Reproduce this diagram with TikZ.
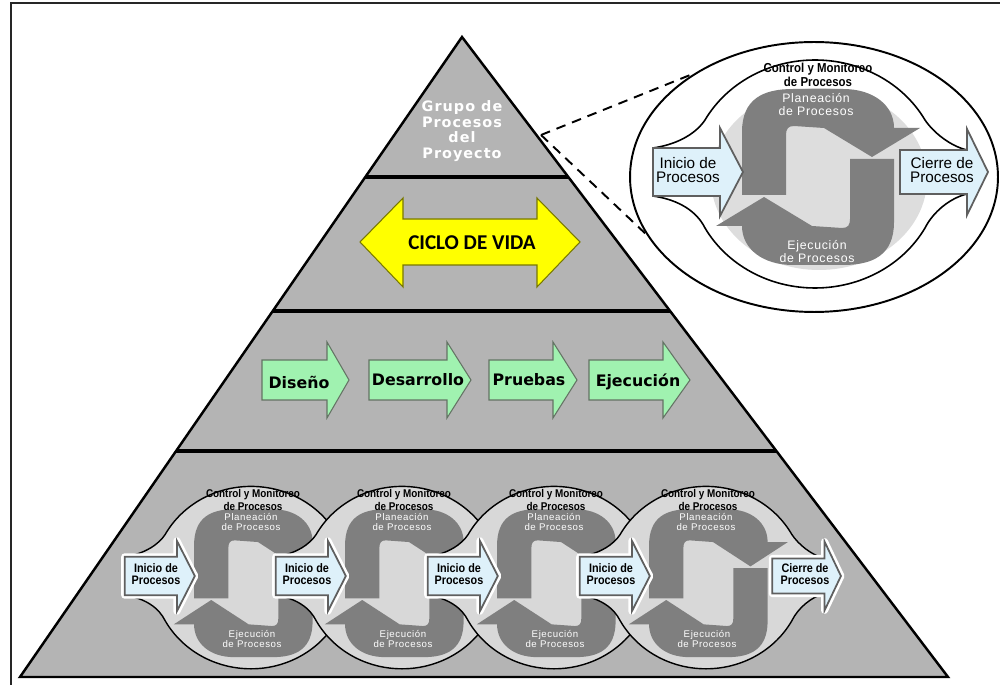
\documentclass[tikz,border=0pt]{standalone}
\usepackage{fontspec}
\usetikzlibrary{shapes.geometric,calc}

\newfontfamily\arialfont{Liberation Sans}
\newfontfamily\narrowfont{Liberation Sans}[FakeStretch=0.88]
\newfontfamily\spacedfont{Liberation Sans}[LetterSpace=6]
\newfontfamily\verdfont{DejaVu Sans}
\newfontfamily\wideverdfont{DejaVu Sans}[LetterSpace=7]
\newfontfamily\calfont{Carlito}

\definecolor{pyrgray}{RGB}{180,180,180}
\definecolor{hookgray}{RGB}{127,127,127}
\definecolor{discgray}{RGB}{221,221,221}
\definecolor{smalldisc}{RGB}{216,216,216}
\definecolor{boxblue}{RGB}{222,241,250}
\definecolor{boxedge}{RGB}{95,95,95}
\definecolor{leafgreen}{RGB}{160,242,176}
\definecolor{leafedge}{RGB}{100,115,100}
\definecolor{lifeyellow}{RGB}{255,255,0}
\definecolor{lifeedge}{RGB}{120,120,0}

% hooked arrow of the process cycle (upper half; the lower one is the same turned 180 degrees)
\newcommand\hookpath[1]{\fill[hookgray,#1] (-76,-18) -- (-76,45)
  .. controls (-76,78) and (-55,88) .. (-25,88) -- (25,88)
  .. controls (55,88) and (76,72) .. (76,49) -- (102,49) -- (54,20) -- (6,49)
  -- (-24,51) .. controls (-30,51) and (-32,48) .. (-32,42) -- (-32,-18) -- cycle;}

% outline of a cycle, pinched towards the start and end arrows
\newcommand\blobtwo[1]{\filldraw[#1] (-162,24) .. controls (-135,28) and (-118,40) .. (-110,52)
  .. controls (-88,89) and (-46,112) .. (0,112) .. controls (46,112) and (88,89) .. (110,52)
  .. controls (118,40) and (135,26) .. (152,22) -- (152,-22)
  .. controls (135,-26) and (118,-40) .. (110,-56)
  .. controls (88,-93) and (46,-116) .. (0,-116) .. controls (-46,-116) and (-88,-93) .. (-110,-56)
  .. controls (-118,-40) and (-135,-28) .. (-162,-24) -- cycle;}
% outline pinched only towards the start arrow
\newcommand\blobone[1]{\filldraw[#1] (-162,24) .. controls (-135,28) and (-118,40) .. (-110,52)
  .. controls (-88,89) and (-46,112) .. (0,112) .. controls (46,112) and (88,89) .. (110,52)
  .. controls (120,35.5) and (125,17) .. (125,-2) .. controls (125,-21) and (120,-39.5) .. (110,-56)
  .. controls (88,-93) and (46,-116) .. (0,-116) .. controls (-46,-116) and (-88,-93) .. (-110,-56)
  .. controls (-118,-40) and (-135,-28) .. (-162,-24) -- cycle;}

\newcommand\inicioarrow[1]{\filldraw[#1] (-162,24) -- (-95,24) -- (-95,44) -- (-72,0)
  -- (-95,-44) -- (-95,-24) -- (-162,-24) -- cycle;}
\newcommand\cierrearrow[1]{\filldraw[#1] (85,22) -- (152,22) -- (152,43) -- (173,0)
  -- (152,-43) -- (152,-22) -- (85,-22) -- cycle;}

\newcommand\greenarrow[3]{\filldraw[leafarrow] (#1,-360) -- (#2,-360) -- (#2,-342) -- (#3,-380)
  -- (#2,-418) -- (#2,-400) -- (#1,-400) -- cycle;}

% one small cycle of the bottom layer: #1 centre x, #2 tag, #3 outline macro
\newcommand\smallcycle[3]{%
\begin{scope}[shift={(#1,-576)}]
  \begin{scope}[xscale=0.78, yscale=0.8]
    #3{fill=smalldisc, draw=black, line width=0.8pt}
    \hookpath{shift={(3,-9)}, yscale=1.05}
    \hookpath{shift={(3,-9)}, yscale=1.05, rotate=180}
    \inicioarrow{procbox, halo}
  \end{scope}
  \node[smallctl] (ctl#2) at (2,76) {Control y Monitoreo\\de Procesos};
  \node[smallwhite] (plan#2) at (0,54) {Planeación\\de Procesos};
  \node[smallwhite] (exec#2) at (1,-63) {Ejecución\\de Procesos};
  \node[smallbox] (ini#2) at (-95,2) {Inicio de\\Procesos};
\end{scope}}

\begin{document}
\begin{tikzpicture}[x=0.02cm, y=0.02cm,
  procbox/.style={fill=boxblue, draw=boxedge, line width=1pt},
  halo/.style={preaction={draw=white, line width=4pt, line join=round}},
  leafarrow/.style={fill=leafgreen, draw=leafedge, line width=0.6pt},
  layerline/.style={line width=2.3pt, line cap=butt},
  cyclabel/.style={align=center, inner sep=0pt},
  bigctl/.style={cyclabel, font=\narrowfont\bfseries\fontsize{7.4}{6.8}\selectfont},
  bigwhite/.style={cyclabel, text=white, font=\spacedfont\fontsize{7}{7.4}\selectfont},
  bigbox/.style={cyclabel, font=\arialfont\fontsize{8.7}{8}\selectfont},
  smallctl/.style={cyclabel, font=\narrowfont\bfseries\fontsize{6.4}{5.7}\selectfont},
  smallwhite/.style={cyclabel, text=white, font=\spacedfont\fontsize{5.5}{5.7}\selectfont},
  smallbox/.style={cyclabel, font=\narrowfont\bfseries\fontsize{7}{6.8}\selectfont},
  leaftext/.style={inner sep=0pt, font=\verdfont\bfseries\fontsize{9}{10}\selectfont}]

\useasboundingbox (0,0) rectangle (1000,-685);

% frame
\draw[line width=1.4pt, draw=black!85, line join=miter] (1000,-3) -- (11,-3) -- (11,-685);

% pyramid and its layers
\coordinate (apex) at (462,-37);
\coordinate (bl) at (20,-677);
\coordinate (br) at (948,-677);
\filldraw[fill=pyrgray, draw=black, line width=1.4pt] (apex) -- (br) -- (bl) -- cycle;
\draw[layerline] ($(apex)!0.21875!(bl)$) -- ($(apex)!0.21875!(br)$);
\draw[layerline] ($(apex)!0.428125!(bl)$) -- ($(apex)!0.428125!(br)$);
\draw[layerline] ($(apex)!0.646875!(bl)$) -- ($(apex)!0.646875!(br)$);

\node[align=center, inner sep=0pt, text=white,
  font=\wideverdfont\bfseries\fontsize{8.2}{9}\selectfont] (grupo) at (462,-131)
  {Grupo de\\Procesos\\del\\Proyecto};

% life cycle double arrow
\filldraw[fill=lifeyellow, draw=lifeedge, line width=0.6pt]
  (360,-242) -- (403,-198) -- (403,-219) -- (537,-219) -- (537,-198) -- (580,-242)
  -- (537,-287) -- (537,-265) -- (403,-265) -- (403,-287) -- cycle;
\node[inner sep=0pt, font=\calfont\bfseries\fontsize{12}{14}\selectfont] (ciclo) at (472,-243) {CICLO DE VIDA};

% phases
\greenarrow{262}{327}{349}
\greenarrow{369}{447}{471}
\greenarrow{489}{553}{577}
\greenarrow{589}{663}{690}
\node[leaftext] (diseno) at (299,-382) {Diseño};
\node[leaftext] (desarrollo) at (418,-380) {Desarrollo};
\node[leaftext] (pruebas) at (529,-380) {Pruebas};
\node[leaftext] (ejecucion) at (638,-382) {Ejecución};

% chain of process cycles
\smallcycle{251}{a}{\blobone}
\smallcycle{402}{b}{\blobone}
\smallcycle{554}{c}{\blobone}
\smallcycle{706}{d}{\blobtwo}
\begin{scope}[shift={(706,-576)}]
  \begin{scope}[xscale=0.78, yscale=0.8]
    \cierrearrow{procbox, halo}
  \end{scope}
  \node[smallbox] (cierred) at (99,2) {Cierre de\\Procesos};
\end{scope}

% enlarged view of one cycle
\node[draw, ellipse, line width=1.1pt, minimum width=7.36cm, minimum height=5.4cm, inner sep=0pt]
  (zoomring) at (814,-177) {};
\coordinate (zoomfrom) at (541,-135);
\draw[line width=1.1pt, dash pattern=on 5.5pt off 4pt] (zoomfrom) -- (zoomring.139);
\draw[line width=1.1pt, dash pattern=on 5.5pt off 4pt] (zoomfrom) -- (zoomring.199);

\begin{scope}[shift={(815,-172)}]
  \blobtwo{fill=white, draw=black, line width=0.9pt}
  \fill[discgray] (4,-7) ellipse [x radius=2.16cm, y radius=1.82cm];
  \hookpath{shift={(3,-5)}}
  \hookpath{shift={(3,-5)}, rotate=180}
  \inicioarrow{procbox}
  \cierrearrow{procbox}
  \node[bigctl] (bigctl) at (3,97) {Control y Monitoreo\\de Procesos};
  \node[bigwhite] (bigplan) at (1,67) {Planeación\\de Procesos};
  \node[bigwhite] (bigexec) at (2,-80) {Ejecución\\de Procesos};
  \node[bigbox] (biginicio) at (-127,2) {Inicio de\\Procesos};
  \node[bigbox] (bigcierre) at (127,2) {Cierre de\\Procesos};
\end{scope}

\end{tikzpicture}
\end{document}
